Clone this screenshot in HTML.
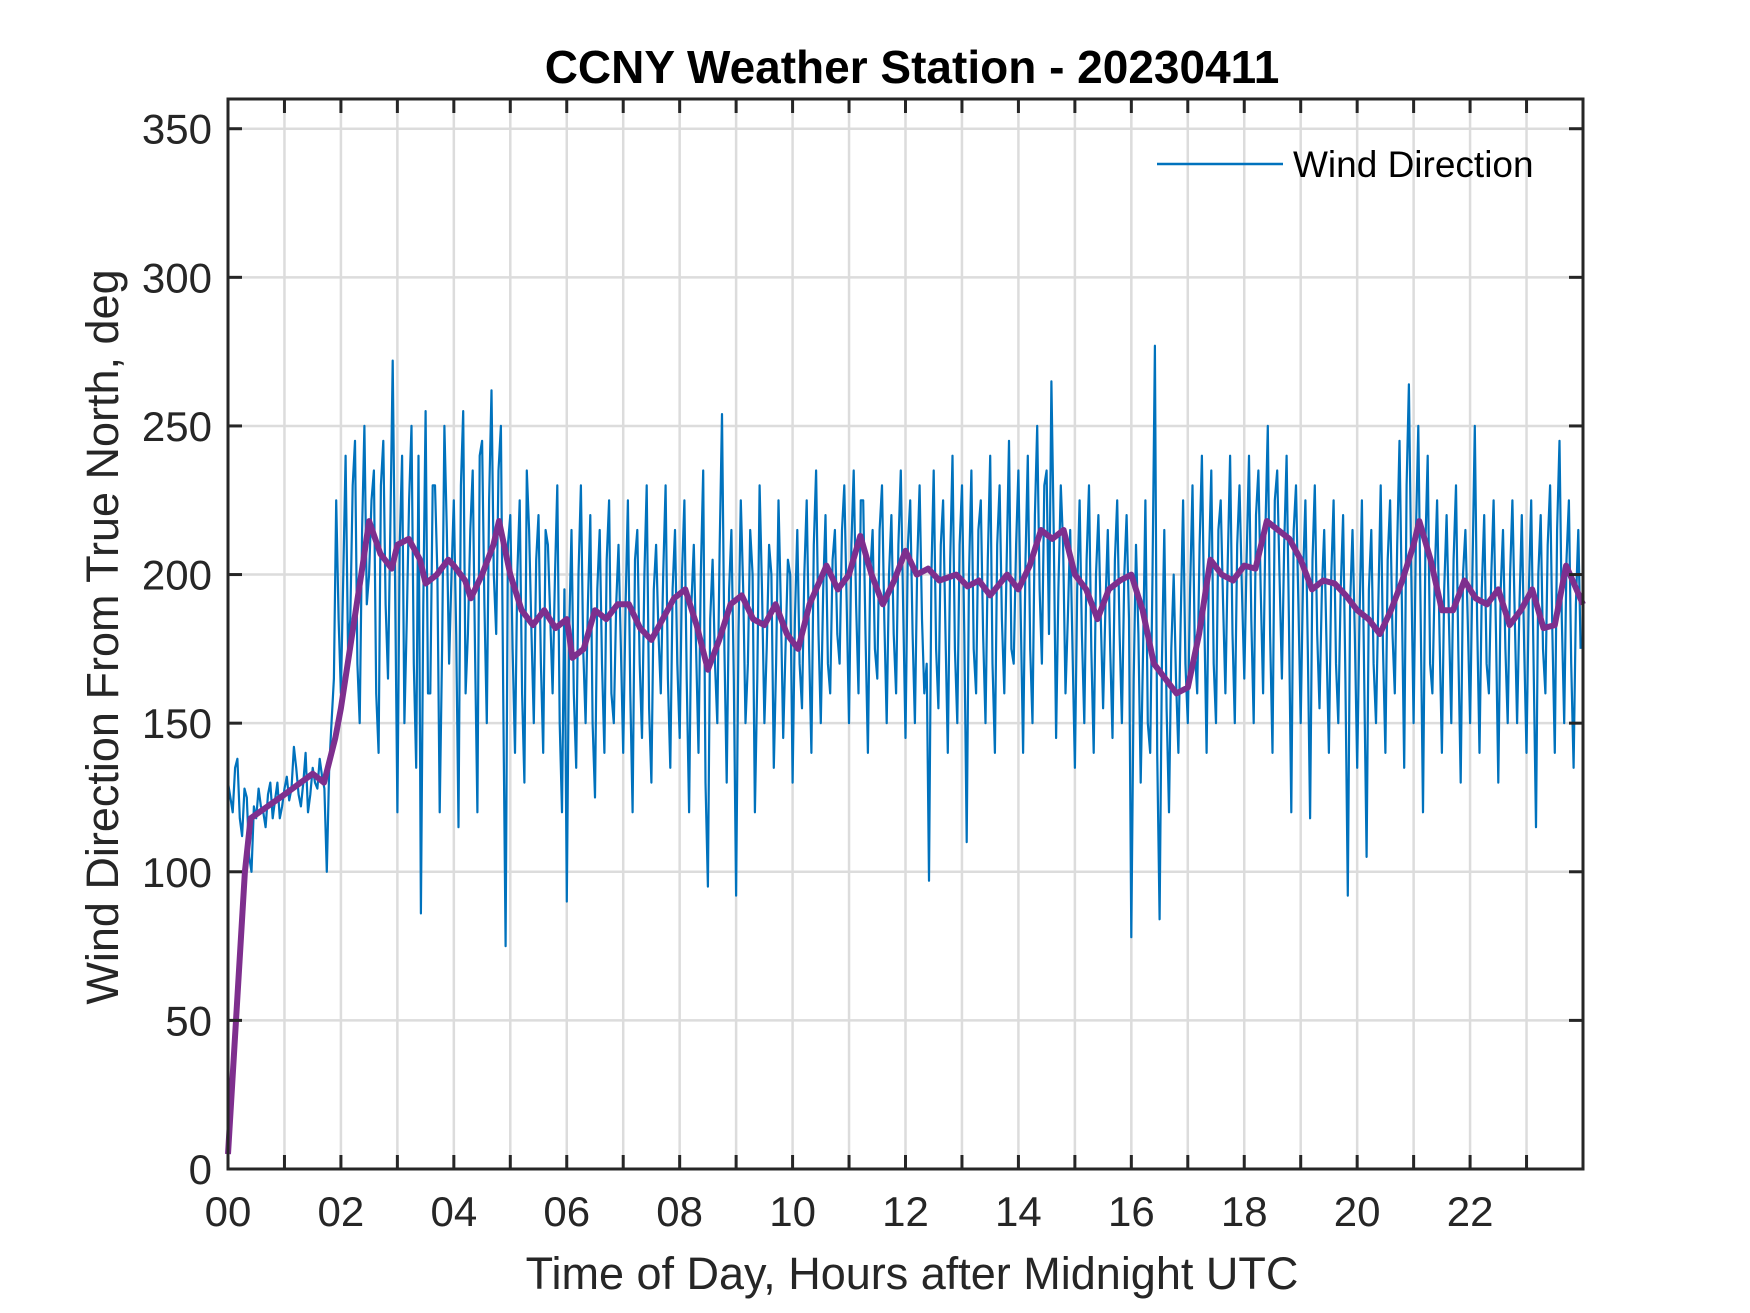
<!DOCTYPE html>
<html><head><meta charset="utf-8"><style>
html,body{margin:0;padding:0;background:#fff;}
svg{display:block;font-family:"Liberation Sans",Arial,sans-serif;}
</style></head><body>
<svg id="chart" width="1750" height="1313" viewBox="0 0 1750 1313" xmlns="http://www.w3.org/2000/svg">
<rect width="1750" height="1313" fill="#fff"/>
<g id="grid"></g>
<g id="series"></g>
<g id="axes"></g>
<text x="912" y="83" text-anchor="middle" font-size="46" font-weight="bold" fill="#000">CCNY Weather Station - 20230411</text>
<text x="912" y="1289" text-anchor="middle" font-size="45" fill="#262626">Time of Day, Hours after Midnight UTC</text>
<text transform="translate(118,637) rotate(-90)" text-anchor="middle" font-size="45" fill="#262626">Wind Direction From True North, deg</text>
<g>
<line x1="1157" y1="164" x2="1283" y2="164" stroke="#0072BD" stroke-width="2.5"/>
<text x="1293" y="177" font-size="37" fill="#000">Wind Direction</text>
</g>
</svg>
<script>
const xTickLabels = ["00","02","04","06","08","10","12","14","16","18","20","22"];
const yTickValues = [0,50,100,150,200,250,300,350];
// raw wind direction, 5-minute samples (12 per hour), on the 5-minute marks
const windDir = [
130,120,138,112,125,100,118,122,115,130,124,118,
128,124,142,126,130,120,135,128,132,100,150,225,
160,240,185,245,150,250,200,235,140,245,165,272,
120,240,185,250,135,86,255,160,230,120,250,170,
225,115,255,180,235,120,245,150,262,180,250,75,
220,140,225,130,215,150,220,140,210,160,230,120,
90,215,135,230,150,220,125,215,140,225,150,210,
140,225,120,215,145,230,130,210,160,230,135,215,
145,225,120,210,140,235,95,205,150,254,130,215,
92,225,150,215,120,230,150,210,135,225,145,205,
130,215,155,225,140,235,150,220,160,215,170,230,
150,235,160,225,140,215,165,230,150,220,160,235,
145,225,150,230,160,97,235,155,225,140,240,150,
230,110,235,160,225,150,240,140,230,160,245,170,
235,140,240,150,250,170,235,265,145,230,160,215,
135,225,150,230,140,220,155,215,145,225,150,220,
78,210,130,225,140,277,84,215,120,200,140,225,
150,230,160,240,140,235,150,225,160,240,150,230,
165,240,150,235,160,250,140,235,165,240,120,230,
150,225,118,230,155,215,140,225,150,220,92,215,
135,225,105,215,150,230,140,225,160,245,135,264,
150,250,120,240,160,225,140,220,150,230,130,215,
150,250,140,220,160,225,130,215,150,225,150,220,
140,225,115,220,160,230,140,245,150,225,135,215
];
// raw wind direction, samples offset by 2.5 minutes
const windDirHalf = [
125,135,118,128,105,122,128,120,126,118,130,122,
132,128,135,122,140,126,130,138,128,135,165,185,
200,175,230,170,215,190,225,160,230,190,215,200,
210,150,225,170,240,190,160,230,200,175,215,200,
180,230,160,215,175,240,190,225,200,235,160,210,
175,200,160,235,180,205,170,215,185,200,150,195,
180,160,200,175,190,150,195,170,205,160,190,175,
190,160,205,170,200,155,195,180,200,165,195,170,
200,165,190,175,200,130,185,170,210,175,195,165,
180,195,170,200,165,195,175,200,170,190,175,200,
185,170,200,175,210,180,195,170,205,180,215,190,
210,190,225,180,200,175,215,185,200,180,210,190,
210,180,205,185,170,200,175,210,180,205,175,210,
180,200,175,215,180,205,170,210,185,205,175,210,
185,205,175,220,195,230,180,215,195,210,185,175,
195,180,205,175,200,185,190,175,205,180,200,185,
165,180,175,150,200,140,170,155,175,165,185,170,
195,175,210,185,205,170,215,190,205,180,210,195,
205,185,220,195,215,180,225,200,210,185,215,190,
200,175,205,180,195,175,200,170,195,165,190,180,
185,165,195,170,190,175,205,180,210,190,230,200,
215,185,210,170,200,180,195,185,205,175,200,185,
200,185,195,170,200,180,195,175,200,185,190,175,
195,170,200,175,210,180,215,185,205,170,190,175
];
// smoothed (running mean) series
const smoothHours = [0,0.3,0.4,0.7,1.0,1.5,1.7,1.9,2.0,2.2,2.4,2.5,2.7,2.9,3.0,3.2,3.4,3.5,3.7,3.9,4.0,4.2,4.3,4.5,4.7,4.8,5.0,5.2,5.4,5.6,5.8,6.0,6.1,6.3,6.5,6.7,6.9,7.1,7.3,7.5,7.7,7.9,8.1,8.3,8.5,8.7,8.9,9.1,9.3,9.5,9.7,9.9,10.1,10.3,10.6,10.8,11.0,11.2,11.4,11.6,11.8,12.0,12.2,12.4,12.6,12.9,13.1,13.3,13.5,13.8,14.0,14.2,14.4,14.6,14.8,15.0,15.2,15.4,15.6,15.8,16.0,16.2,16.4,16.6,16.8,17.0,17.2,17.4,17.6,17.8,18.0,18.2,18.4,18.6,18.8,19.0,19.2,19.4,19.6,19.8,20.0,20.2,20.4,20.6,20.8,21.0,21.1,21.3,21.5,21.7,21.9,22.1,22.3,22.5,22.7,22.9,23.1,23.3,23.5,23.7,24.0];
const smoothDir = [5,100,118,122,126,133,130,145,155,180,205,218,207,202,210,212,205,197,200,205,203,198,192,200,210,218,200,188,183,188,182,185,172,175,188,185,190,190,182,178,185,192,195,183,168,178,190,193,185,183,190,180,175,190,203,195,200,213,200,190,198,208,200,202,198,200,196,198,193,200,195,203,215,212,215,200,195,185,195,198,200,188,170,165,160,162,180,205,200,198,203,202,218,215,212,205,195,198,197,193,188,185,180,188,198,210,218,205,188,188,198,192,190,195,183,188,195,182,183,203,190];

const NS="http://www.w3.org/2000/svg";
const L=228,R=1583,T=99,B=1169;
const xMin=0,xMax=24,yMin=0,yMax=360;
function xs(h){return L+(h-xMin)/(xMax-xMin)*(R-L);}
function ys(v){return B-(v-yMin)/(yMax-yMin)*(B-T);}
function mk(tag,attrs,parent){const e=document.createElementNS(NS,tag);for(const k in attrs)e.setAttribute(k,attrs[k]);parent.appendChild(e);return e;}
const grid=document.getElementById('grid'),axes=document.getElementById('axes'),series=document.getElementById('series');

for(let h=1;h<24;h++){
  const g=mk('line',{x1:xs(h),x2:xs(h),y1:T,y2:B,stroke:'#dcdcdc','stroke-width':2.5},grid);
  
  
}
yTickValues.forEach(v=>{ if(v===0)return;
  const g=mk('line',{x1:L,x2:R,y1:ys(v),y2:ys(v),stroke:'#dcdcdc','stroke-width':2.5},grid);
  
  
});

const pts=[];
windDir.forEach((v,i)=>{pts.push([i/12,v]); if(i<windDirHalf.length) pts.push([(i+0.5)/12,windDirHalf[i]]);});
let d='';
pts.forEach((p,i)=>{d+=(i?'L':'M')+xs(p[0]).toFixed(1)+' '+ys(p[1]).toFixed(1);});
const raw=mk('path',{d:d,fill:'none',stroke:'#0072BD','stroke-width':2.2,'stroke-linejoin':'round'},series);


let d2='';
smoothDir.forEach((v,i)=>{d2+=(i?'L':'M')+xs(smoothHours[i]).toFixed(1)+' '+ys(v).toFixed(1);});
const sm=mk('path',{d:d2,fill:'none',stroke:'#7E2F8E','stroke-width':6,'stroke-linejoin':'round'},series);



const box=mk('rect',{x:L,y:T,width:R-L,height:B-T,fill:'none',stroke:'#262626','stroke-width':3},axes);


for(let h=1;h<24;h++){
  mk('line',{x1:xs(h),x2:xs(h),y1:B,y2:B-14,stroke:'#262626','stroke-width':3},axes);
  mk('line',{x1:xs(h),x2:xs(h),y1:T,y2:T+14,stroke:'#262626','stroke-width':3},axes);
}
xTickLabels.forEach((s,i)=>{
  const t=mk('text',{x:xs(i*2),y:B+57,'text-anchor':'middle','font-size':42,fill:'#262626'},axes);
  t.textContent=s;
  
  
});
yTickValues.forEach(v=>{
  mk('line',{x1:L,x2:L+14,y1:ys(v),y2:ys(v),stroke:'#262626','stroke-width':3},axes);
  mk('line',{x1:R,x2:R-14,y1:ys(v),y2:ys(v),stroke:'#262626','stroke-width':3},axes);
  const t=mk('text',{x:L-16,y:ys(v)+15,'text-anchor':'end','font-size':42,fill:'#262626'},axes);
  t.textContent=v;
  
  
});
</script>
</body></html>
